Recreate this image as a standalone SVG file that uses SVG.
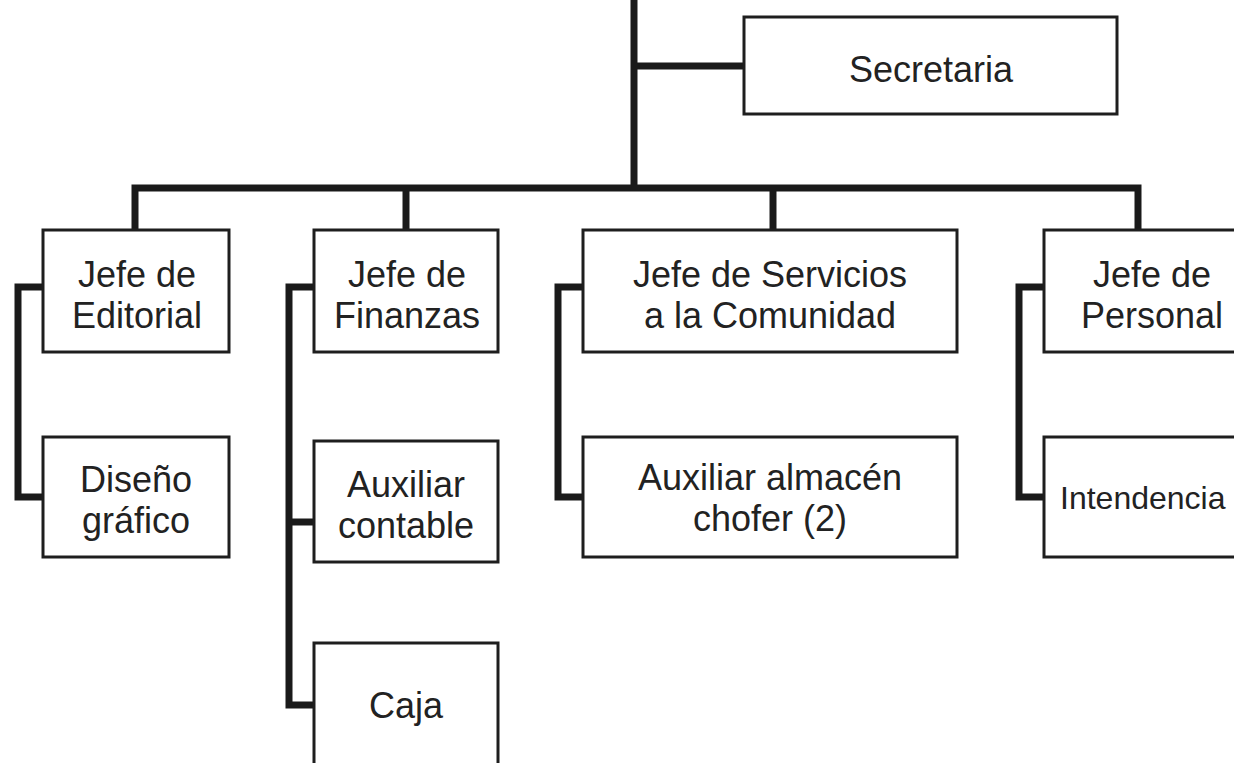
<svg xmlns="http://www.w3.org/2000/svg" width="1234" height="763" viewBox="0 0 1234 763">
<style>
.box{fill:#fff;stroke:#1e1e1e;stroke-width:3}
.ln{fill:none;stroke:#1a1a1a;stroke-width:7;stroke-linejoin:miter;stroke-linecap:butt}
text{font-family:"Liberation Sans",Arial,sans-serif;font-size:36px;fill:#222;text-anchor:middle}
.sm{font-size:32px}
</style>
<rect width="1234" height="763" fill="#fff"/>
<g id="connectors">
<path class="ln" d="M634 0 V188"/>
<path class="ln" d="M634 66 H744"/>
<path class="ln" d="M135 230 V188 H1138 V230"/>
<path class="ln" d="M406 188 V230"/>
<path class="ln" d="M773 188 V230"/>
<path class="ln" d="M43 287 H18 V497 H43"/>
<path class="ln" d="M314 287 H289 V705 H314"/>
<path class="ln" d="M289 522 H314"/>
<path class="ln" d="M583 287 H558 V497 H583"/>
<path class="ln" d="M1044 287 H1019 V497 H1044"/>
</g>
<g id="secretaria"><rect class="box" x="744" y="17" width="373" height="97"/><text x="931" y="82">Secretaria</text></g>
<g id="jefe-editorial"><rect class="box" x="43" y="230" width="186" height="122"/><text x="137" y="287">Jefe de</text><text x="137" y="328">Editorial</text></g>
<g id="jefe-finanzas"><rect class="box" x="314" y="230" width="184" height="122"/><text x="407" y="287">Jefe de</text><text x="407" y="328">Finanzas</text></g>
<g id="jefe-servicios"><rect class="box" x="583" y="230" width="374" height="122"/><text x="770" y="287">Jefe de Servicios</text><text x="770" y="328">a la Comunidad</text></g>
<g id="jefe-personal"><rect class="box" x="1044" y="230" width="200" height="122"/><text x="1152" y="287">Jefe de</text><text x="1152" y="328">Personal</text></g>
<g id="diseno"><rect class="box" x="43" y="437" width="186" height="120"/><text x="136" y="492">Diseño</text><text x="136" y="533">gráfico</text></g>
<g id="auxiliar-contable"><rect class="box" x="314" y="441" width="184" height="121"/><text x="406" y="497">Auxiliar</text><text x="406" y="538">contable</text></g>
<g id="caja"><rect class="box" x="314" y="643" width="184" height="130"/><text x="406" y="718">Caja</text></g>
<g id="auxiliar-almacen"><rect class="box" x="583" y="437" width="374" height="120"/><text x="770" y="490">Auxiliar almacén</text><text x="770" y="531">chofer (2)</text></g>
<g id="intendencia"><rect class="box" x="1044" y="437" width="200" height="120"/><text class="sm" x="1060" y="509" style="text-anchor:start">Intendencia</text></g>
</svg>
